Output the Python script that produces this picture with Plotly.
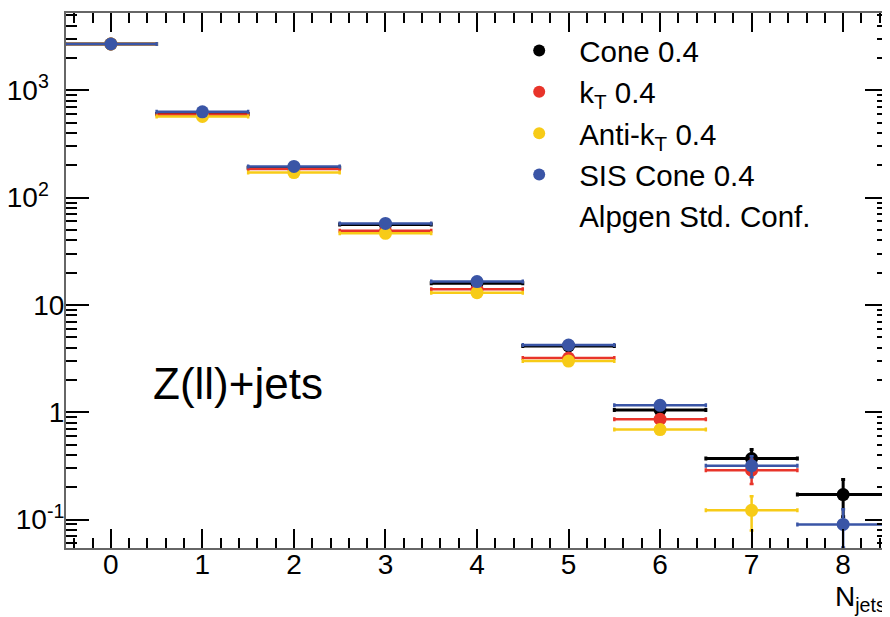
import plotly.graph_objects as go

# ---- data ----
n_jets = [0, 1, 2, 3, 4, 5, 6, 7, 8]

cone_y   = [2700, 600, 190, 56, 15.9, 4.15, 1.05, 0.37, 0.171]
cone_err = [0, 0, 0, 0, 0, 0.05, 0.04, 0.08, 0.065]

kt_y   = [2700, 595, 185, 49, 14.0, 3.2, 0.86, 0.288, None]
kt_err = [0, 0, 0, 0, 0, 0.05, 0.04, 0.074, None]

antikt_y   = [2700, 570, 171, 46.5, 13.0, 3.0, 0.69, 0.122, None]
antikt_err = [0, 0, 0, 0, 0, 0.05, 0.04, 0.043, None]

sis_y   = [2700, 630, 195, 57.5, 16.5, 4.23, 1.16, 0.318, 0.090]
sis_err = [0, 0, 0, 0, 0, 0.05, 0.04, 0.07, 0.035]

bin_half_width = 0.5

series = [
    ("Cone 0.4", cone_y, cone_err, "#000000", 3),
    ("k<sub>T</sub> 0.4", kt_y, kt_err, "#e8342a", 2.5),
    ("Anti-k<sub>T</sub> 0.4", antikt_y, antikt_err, "#f7cb17", 2.5),
    ("SIS Cone 0.4", sis_y, sis_err, "#3a55a6", 2.5),
]

NB = "\u00a0"
y_tickvals = [0.1, 1, 10, 100, 1000]
y_ticktext = ["10<sup>-1</sup>", "1", "10",
              "10<sup>2</sup>" + NB * 2, "10<sup>3</sup>" + NB * 2]
x_tickvals = n_jets
x_ticktext = [str(v) for v in n_jets]

FONT = "Liberation Sans, Arial, Helvetica, sans-serif"

fig = go.Figure()
for name, ys, errs, col, lw in series:
    fig.add_trace(go.Scatter(
        x=n_jets, y=ys, name=name, mode="markers",
        marker=dict(color=col, size=13, symbol="circle"),
        error_x=dict(type="constant", value=bin_half_width, color=col,
                     thickness=lw, width=2),
        error_y=dict(type="data", array=errs, symmetric=True, color=col,
                     thickness=lw, width=2),
    ))

# legend-only text line
fig.add_trace(go.Scatter(x=[None], y=[None], mode="markers",
                         marker=dict(color="rgba(0,0,0,0)", size=1,
                                     line=dict(width=0)),
                         name="Alpgen Std. Conf."))

y_minor = [m * 10 ** e for e in range(-2, 4) for m in range(2, 10)]

# page body has an 8px margin, so the figure is sized to fit the window
fig.update_layout(
    width=882, height=609,
    margin=dict(l=58, r=2, t=5, b=69, autoexpand=False),
    paper_bgcolor="white", plot_bgcolor="white",
    font=dict(family=FONT, color="black"),
    showlegend=True,
    legend=dict(x=0.527, y=0.978, xanchor="left", yanchor="top",
                bgcolor="rgba(0,0,0,0)", font=dict(size=29.5, family=FONT),
                itemwidth=70, itemsizing="constant"),
    xaxis=dict(range=[-0.49, 8.49], tickvals=x_tickvals, ticktext=x_ticktext,
               ticks="inside", ticklen=19, tickwidth=1.5, tickcolor="black",
               minor=dict(dtick=0.2, tick0=0, ticks="inside", ticklen=10,
                          tickwidth=1.5, tickcolor="black", showgrid=False),
               showline=True, linecolor="#666666", linewidth=2,
               mirror="allticks", showgrid=False, zeroline=False,
               automargin=False, ticklabelstandoff=-10,
               tickfont=dict(size=28, family=FONT)),
    yaxis=dict(type="log", range=[-1.265, 3.72],
               tickvals=y_tickvals, ticktext=y_ticktext,
               ticks="inside", ticklen=23, tickwidth=1.5, tickcolor="black",
               minor=dict(tickvals=y_minor, ticks="inside", ticklen=11,
                          tickwidth=1.5, tickcolor="black", showgrid=False),
               showline=True, linecolor="#666666", linewidth=2,
               mirror="allticks", showgrid=False, zeroline=False,
               automargin=False, ticklabelstandoff=-6,
               tickfont=dict(size=28, family=FONT)),
)

fig.add_annotation(text="Z(ll)+jets", xref="paper", yref="paper",
                   x=0.104, y=0.308, xanchor="left", yanchor="middle",
                   showarrow=False, font=dict(size=44, family=FONT))
fig.add_annotation(text="N<sub>jets</sub>", xref="paper", yref="paper",
                   x=0.933, y=-0.058, xanchor="left", yanchor="top",
                   showarrow=False, font=dict(size=28, family=FONT))

fig.write_html("out.html")
